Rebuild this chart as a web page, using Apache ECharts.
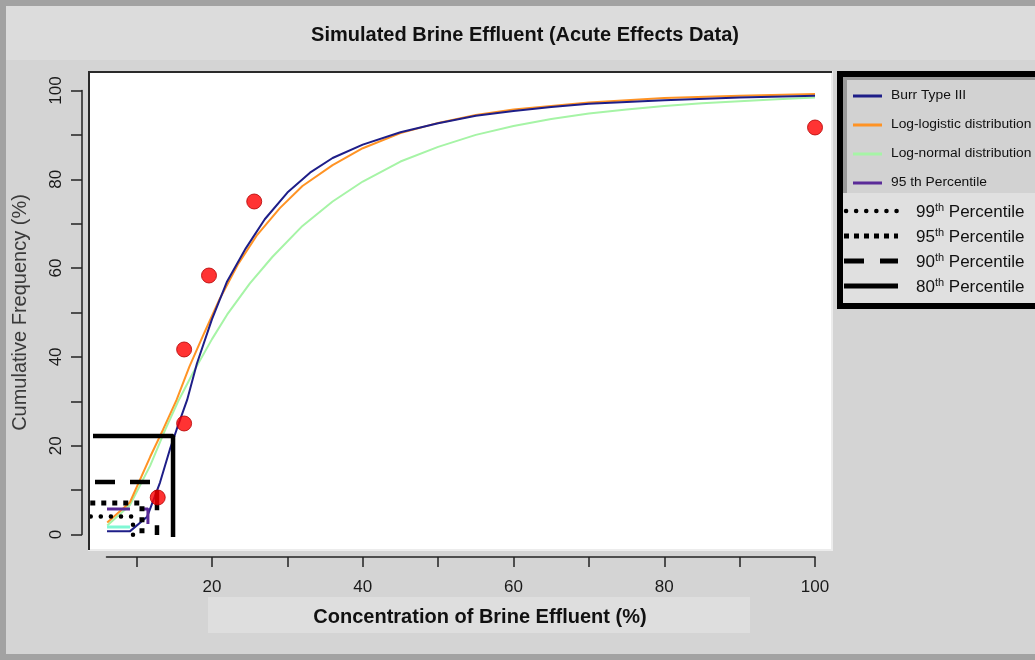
<!DOCTYPE html>
<html><head><meta charset="utf-8">
<script src="https://cdn.jsdelivr.net/npm/echarts@6/dist/echarts.min.js"></script>
<style>html,body{margin:0;padding:0;background:#d4d4d4}#c{width:1035px;height:660px}</style>
</head><body><div id="c"></div>
<script>
// ---- data ----
const xTickValues = [10, 20, 30, 40, 50, 60, 70, 80, 90, 100];
const xLabelValues = [20, 40, 60, 80, 100];
const yTickValues = [0, 10, 20, 30, 40, 50, 60, 70, 80, 90, 100];
const yLabelValues = [0, 20, 40, 60, 80, 100];

const observed = [[12.8, 8.33], [16.3, 25], [16.3, 41.67], [19.6, 58.33], [25.6, 75], [100, 91.67]];

const burrType3 = [[6.07,0.7],[9.1,0.7],[11.4,4.0],[13.1,11.7],[14.4,19.1],[15.3,23.6],[16.7,30.3],[18,38.5],[20,48.5],[22,57],[24.5,64.5],[27,71],[30,77],[33,81.5],[36,84.8],[40,87.8],[45,90.6],[50,92.6],[55,94.3],[60,95.4],[65,96.3],[70,97],[80,97.8],[90,98.4],[100,98.8]];
const logLogistic = [[6.1,2.7],[9.1,7.2],[11.8,17.5],[13.5,23.6],[15.3,30.3],[17,37.8],[19,45.5],[21,53],[23.5,61],[26,67.5],[29,73.5],[32,78.5],[36,83.2],[40,87],[45,90.4],[50,92.7],[55,94.5],[60,95.7],[70,97.3],[80,98.3],[90,98.8],[100,99.2]];
const logNormal = [[6.1,2.0],[9.1,6.6],[11.8,15.5],[13.8,23.6],[15.6,30.3],[17.5,36.5],[20,44],[22,49.5],[25,56.5],[28,62.5],[32,69.5],[36,75],[40,79.5],[45,84],[50,87.3],[55,90],[60,92],[65,93.6],[70,94.8],[75,95.7],[80,96.5],[85,97.1],[90,97.6],[95,98],[100,98.4]];

const pct80 = [[4.21,22.2],[14.83,22.2],[14.83,-0.56]];
const pct90 = [[4.48,11.8],[12.7,11.8],[12.7,-0.1]];
const pct95 = [[3.85,7.1],[10.71,7.1],[10.71,-0.1]];
const pct99 = [[3.9,4.05],[9.52,4.05],[9.52,-0.1]];
const pct95Purple = [[6.07,5.74],[11.5,5.74],[11.5,0.56]];
const aquaMark = [[6.07,1.7],[9.12,1.7]];

const legendTop = ['Burr Type III', 'Log-logistic distribution', 'Log-normal distribution', '95 th Percentile'];
const legendBottom = ['99', '95', '90', '80'];

// ---- chart ----
const NAVY = '#1e1e88', ORANGE = '#ff9324', GREEN = '#a6f4a6', PURPLE = '#5a2b98', AQUA = '#80f8d4';
const tickFont = '"Liberation Sans Narrow", "Liberation Sans", Arial, sans-serif';
const mainFont = '"Liberation Sans", Arial, sans-serif';

const chart = echarts.init(document.getElementById('c'));

function lineSeries(name, data, color, width, type, cap) {
  return {
    name, type: 'line', data, xAxisIndex: 0, yAxisIndex: 0,
    showSymbol: false, symbol: 'none', silent: true, animation: false,
    lineStyle: { color, width, type: type || 'solid', cap: cap || 'butt' }, z: 3
  };
}

const legendGraphics = [];
legendGraphics.push({ type: 'rect', shape: { x: 840, y: 74, width: 300, height: 232 }, style: { fill: '#e0e0e0', stroke: '#000', lineWidth: 6 }, z: 1 });
legendGraphics.push({ type: 'rect', shape: { x: 843, y: 77, width: 200, height: 116 }, style: { fill: '#d2d2d2' }, z: 2 });
legendGraphics.push({ type: 'rect', shape: { x: 843, y: 77, width: 4, height: 116 }, style: { fill: '#9a9a9a' }, z: 3 });
legendGraphics.push({ type: 'rect', shape: { x: 843, y: 77, width: 200, height: 3 }, style: { fill: '#9a9a9a' }, z: 3 });
const topColors = [NAVY, ORANGE, GREEN, PURPLE];
legendTop.forEach((t, i) => {
  const y = 96 + i * 29;
  legendGraphics.push({ type: 'line', shape: { x1: 853, y1: y, x2: 882, y2: y }, style: { stroke: topColors[i], lineWidth: 3 }, z: 4 });
  legendGraphics.push({ type: 'text', x: 891, y: y, scaleX: 1.15, style: { text: t, fontSize: 12, fontFamily: mainFont, fill: '#111', verticalAlign: 'middle', align: 'left' }, z: 4 });
});
const bottomDash = [[0.1, 10], [5, 5], [20, 16], null];
const bottomCap = ['round', 'butt', 'butt', 'butt'];
legendBottom.forEach((t, i) => {
  const y = 211 + i * 25;
  legendGraphics.push({ type: 'line', shape: { x1: i === 0 ? 846 : 844, y1: y, x2: 898, y2: y }, style: { stroke: '#000', lineWidth: i === 0 ? 4.5 : 5, lineDash: bottomDash[i], lineCap: bottomCap[i] }, z: 4 });
  legendGraphics.push({ type: 'text', x: 916, y: y + 1, style: {
    text: '{a|' + t + '}{b|th}{a| Percentile}', verticalAlign: 'middle', align: 'left',
    rich: { a: { fontSize: 17, fontFamily: mainFont, fill: '#111', lineHeight: 20 },
            b: { fontSize: 11, fontFamily: mainFont, fill: '#111', lineHeight: 20, verticalAlign: 'top' } } }, z: 4 });
});

const option = {
  backgroundColor: '#d4d4d4',
  animation: false,
  graphic: [
    { type: 'rect', shape: { x: 3, y: 3, width: 1045, height: 654 }, style: { fill: 'none', stroke: '#a2a2a2', lineWidth: 6 }, z: -5 },
    { type: 'rect', shape: { x: 6, y: 6, width: 1029, height: 54 }, style: { fill: '#dcdcdc' }, z: -4 },
    { type: 'rect', shape: { x: 208, y: 597, width: 542, height: 36 }, style: { fill: '#dedede' }, z: -4 },
    { type: 'text', x: 525, y: 35, style: { text: 'Simulated Brine Effluent (Acute Effects Data)', fontSize: 20, fontWeight: 'bold', fontFamily: mainFont, fill: '#111', align: 'center', verticalAlign: 'middle' }, z: 5 },
    { type: 'text', x: 480, y: 617, style: { text: 'Concentration of Brine Effluent (%)', fontSize: 20, fontWeight: 'bold', fontFamily: mainFont, fill: '#111', align: 'center', verticalAlign: 'middle' }, z: 5 },
    { type: 'rect', shape: { x: 89, y: 72, width: 743, height: 478 }, style: { fill: 'none', stroke: '#ececec', lineWidth: 2 }, z: 1 },
    { type: 'line', shape: { x1: 88, y1: 72, x2: 832, y2: 72 }, style: { stroke: '#2a2a2a', lineWidth: 2 }, z: 6 },
    { type: 'line', shape: { x1: 89, y1: 71, x2: 89, y2: 550 }, style: { stroke: '#2a2a2a', lineWidth: 2 }, z: 6 },
    ...legendGraphics
  ],
  grid: [
    { left: 90, right: 204, top: 73, bottom: 111, show: true, backgroundColor: '#ffffff', borderWidth: 0 },
    { left: 106.5, right: 220, top: 556, height: 1, show: false },
    { left: 82, width: 1, top: 90.5, bottom: 125.5, show: false }
  ],
  xAxis: [
    { type: 'value', gridIndex: 0, min: 3.814, max: 102.12, show: false },
    { type: 'value', gridIndex: 1, min: 6, max: 100, position: 'bottom',
      axisLine: { show: true, lineStyle: { color: '#222', width: 1.5 } },
      axisTick: { show: true, length: 10, inside: false, customValues: xTickValues, lineStyle: { color: '#222', width: 1.5 } },
      axisLabel: { show: true, customValues: xLabelValues, margin: 22, fontSize: 17, fontFamily: tickFont, color: '#1a1a1a' },
      splitLine: { show: false } },
    { type: 'value', gridIndex: 2, min: 0, max: 1, show: false }
  ],
  yAxis: [
    { type: 'value', gridIndex: 0, min: -3.27, max: 103.94, show: false },
    { type: 'value', gridIndex: 1, min: 0, max: 1, show: false },
    { type: 'value', gridIndex: 2, min: 0, max: 100, position: 'left',
      name: 'Cumulative Frequency (%)', nameLocation: 'middle', nameGap: 52, nameRotate: 90,
      nameTextStyle: { fontSize: 20, fontFamily: mainFont, color: '#3a3a3a' },
      axisLine: { show: true, lineStyle: { color: '#222', width: 1.5 } },
      axisTick: { show: true, length: 11, inside: false, customValues: yTickValues, lineStyle: { color: '#222', width: 1.5 } },
      axisLabel: { show: true, customValues: yLabelValues, rotate: 90, margin: 17, fontSize: 17, fontFamily: tickFont, color: '#1a1a1a' },
      splitLine: { show: false } }
  ],
  series: [
    lineSeries('Log-normal distribution', logNormal, GREEN, 2),
    lineSeries('Log-logistic distribution', logLogistic, ORANGE, 2),
    lineSeries('Burr Type III', burrType3, NAVY, 2),
    lineSeries('aqua', aquaMark, AQUA, 3),
    lineSeries('95 th Percentile', pct95Purple, PURPLE, 3, [23, 10]),
    lineSeries('99th Percentile', pct99, '#000', 4.5, [0.1, 10], 'round'),
    lineSeries('95th Percentile', pct95, '#000', 5, [5, 6]),
    lineSeries('90th Percentile', pct90, '#000', 4.5, [20, 15]),
    lineSeries('80th Percentile', pct80, '#000', 4.5),
    { name: 'Observed', type: 'scatter', data: observed, xAxisIndex: 0, yAxisIndex: 0,
      symbol: 'circle', symbolSize: 15, itemStyle: { color: '#ff0000', borderColor: '#b30000', borderWidth: 1 }, z: 5 }
  ]
};
chart.setOption(option);
</script></body></html>
